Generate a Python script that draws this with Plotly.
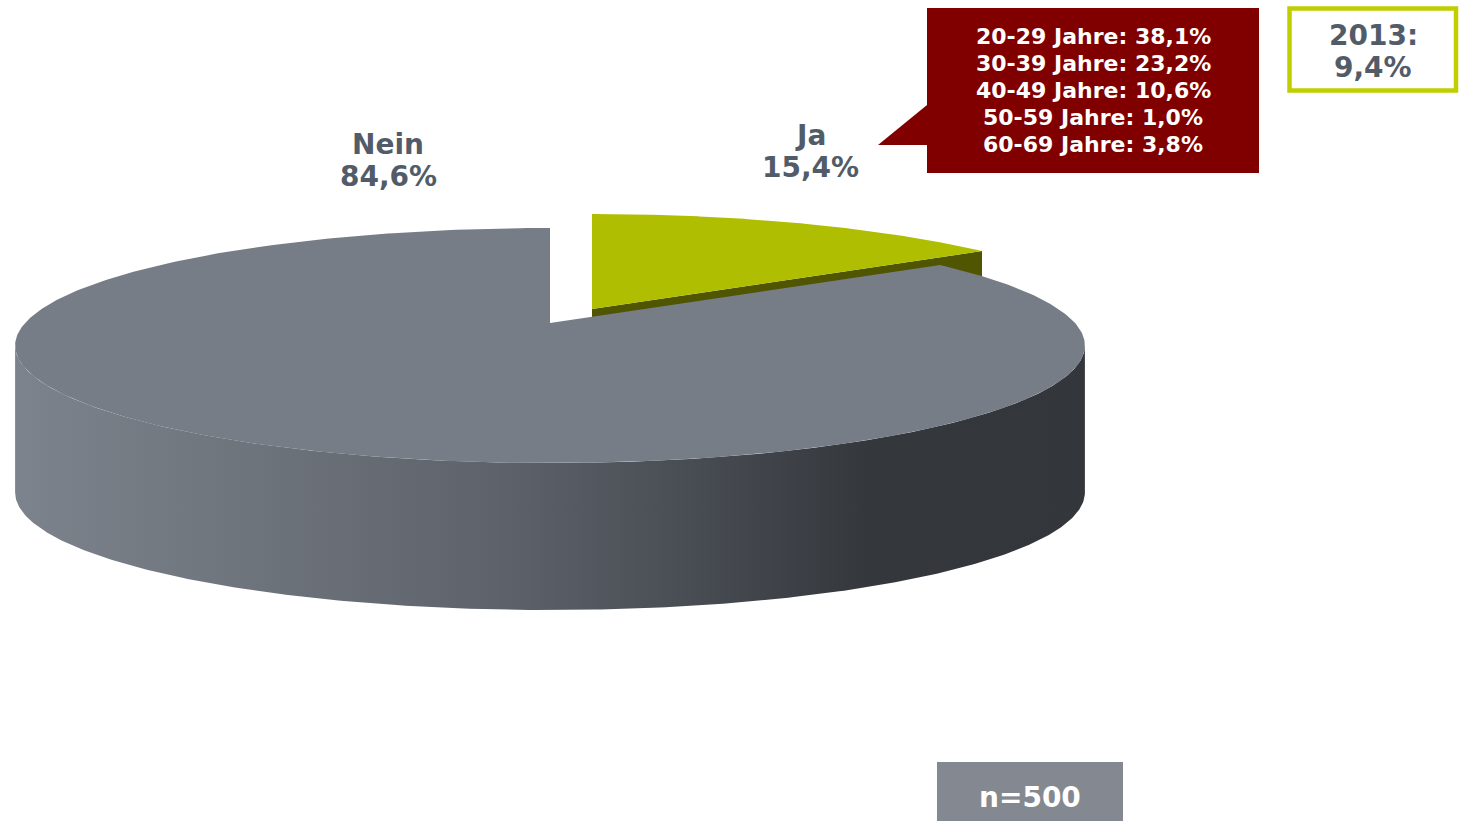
import numpy as np
import plotly.graph_objects as go

# ---- data ----
categories = ["Ja", "Nein"]
shares = [15.4, 84.6]
age_groups = ["20-29 Jahre", "30-39 Jahre", "40-49 Jahre", "50-59 Jahre", "60-69 Jahre"]
age_shares = [38.1, 23.2, 10.6, 1.0, 3.8]
prev_year = "2013"
prev_share = 9.4
sample_n = 500

# ---- styles ----
W, H = 1465, 821
FONT = "DejaVu Sans"
TOP_COLORS = {"Ja": "#afbe00", "Nein": "#777d87"}
SIDE_COLORS = {"Ja": "#4f5500", "Nein": "#33373c"}
LABEL_COLOR = "#525c68"

# pseudo-3D projection parameters (pixel space)
CX, CY = 550.0, 323.0
RA, RB = 525.0, 113.2
PERSP = 0.1915
DEPTH = 147.0
EXPLODE = {"Ja": (42.0, -14.0), "Nein": (0.0, 0.0)}


def fmt(v):
    return f"{v:.1f}".replace(".", ",") + "%"


def proj(phi_deg, r=1.0):
    ph = np.radians(phi_deg)
    X = r * np.sin(ph)
    Z = r * np.cos(ph)
    d = 1 + PERSP * Z
    return CX + RA * X / d, CY - RB * Z / d


fig = go.Figure()

# angular extents from the data (clockwise from 12 o'clock)
total = sum(shares)
bounds = {}
start = 0.0
for c, v in zip(categories, shares):
    end = start + 360.0 * v / total
    bounds[c] = (start, end)
    start = end

phi_right = np.degrees(np.arccos(-PERSP))
phi_left = 360.0 - phi_right

traces_back, traces_front = [], []
for c in categories:
    a0, a1 = bounds[c]
    dx, dy = EXPLODE[c]
    layer = []
    # radial face at the end angle (visible when it faces front-right)
    if 0 < a1 < 180:
        ex, ey = proj(a1)
        xs = [CX, ex, ex, CX, CX]
        ys = [CY, ey, ey + DEPTH, CY + DEPTH, CY]
        layer.append(go.Scatter(x=np.array(xs) + dx, y=np.array(ys) + dy, mode="lines",
                                fill="toself", fillcolor=SIDE_COLORS[c],
                                line=dict(width=0), hoverinfo="skip", showlegend=False))
    # outer wall (front part)
    w0, w1 = max(a0, phi_right), min(a1, phi_left)
    if w1 > w0:
        ph = np.linspace(w0, w1, 300)
        tx, ty = proj(ph)
        xs = np.concatenate([tx, tx[::-1], tx[:1]])
        ys = np.concatenate([ty, ty[::-1] + DEPTH, ty[:1]])
        layer.append(go.Scatter(x=xs + dx, y=ys + dy, mode="lines", fill="toself",
                                fillgradient=dict(type="horizontal",
                                                  colorscale=[[0, "#7d838c"], [0.45, "#5e636b"],
                                                              [0.8, "#34383d"], [1, "#33363b"]]),
                                line=dict(width=0), hoverinfo="skip", showlegend=False))
    # top face
    ph = np.linspace(a0, a1, 400)
    tx, ty = proj(ph)
    xs = np.concatenate([[CX], tx, [CX]])
    ys = np.concatenate([[CY], ty, [CY]])
    layer.append(go.Scatter(x=xs + dx, y=ys + dy, mode="lines", fill="toself",
                            fillcolor=TOP_COLORS[c], line=dict(width=0),
                            name=c, hoverinfo="name", showlegend=False))
    if c == "Ja":
        traces_back += layer
    else:
        traces_front += layer

for t in traces_back + traces_front:
    fig.add_trace(t)


def text_lines(lines, x, y0, step, size, color):
    for i, s in enumerate(lines):
        fig.add_annotation(x=x, y=y0 + i * step, text=f"<b>{s}</b>", showarrow=False,
                           font=dict(family=FONT, size=size, color=color),
                           xanchor="center", yanchor="middle", align="center")


# ---- labels ----
label_pos = {"Nein": (388, 144), "Ja": (810, 135)}
for c, v in zip(categories, shares):
    x, y = label_pos[c]
    text_lines([c, fmt(v)], x, y, 32, 28, LABEL_COLOR)

# callout box with age breakdown
shapes = [
    dict(type="path", path="M 927 105 L 878 145 L 927 145 Z", fillcolor="#800000",
         line=dict(width=0), layer="above"),
    dict(type="rect", x0=927, x1=1259, y0=8, y1=173, fillcolor="#800000",
         line=dict(width=0), layer="above"),
    dict(type="rect", x0=1289.5, x1=1456, y0=8.5, y1=90.5, fillcolor="white",
         line=dict(width=4.5, color="#c0ce00"), layer="above"),
    dict(type="rect", x0=937, x1=1123, y0=762, y1=830, fillcolor="#848991",
         line=dict(width=0), layer="above"),
]
fig.update_layout(shapes=shapes)

text_lines([f"{g}: {fmt(v)}" for g, v in zip(age_groups, age_shares)], 1093, 36, 27, 22, "white")
text_lines([f"{prev_year}:", fmt(prev_share)], 1373, 35, 32, 28, LABEL_COLOR)
text_lines([f"n={sample_n}"], 1030, 797, 0, 28, "white")

fig.update_layout(
    width=W, height=H, autosize=False,
    margin=dict(l=0, r=0, t=0, b=0),
    paper_bgcolor="white", plot_bgcolor="white",
    xaxis=dict(range=[0, W], visible=False, fixedrange=True),
    yaxis=dict(range=[H, 0], visible=False, fixedrange=True),
    showlegend=False,
)

fig.write_html("out.html", config={"displayModeBar": False},
               post_script="document.body.style.margin='0';document.body.style.overflow='hidden';")
